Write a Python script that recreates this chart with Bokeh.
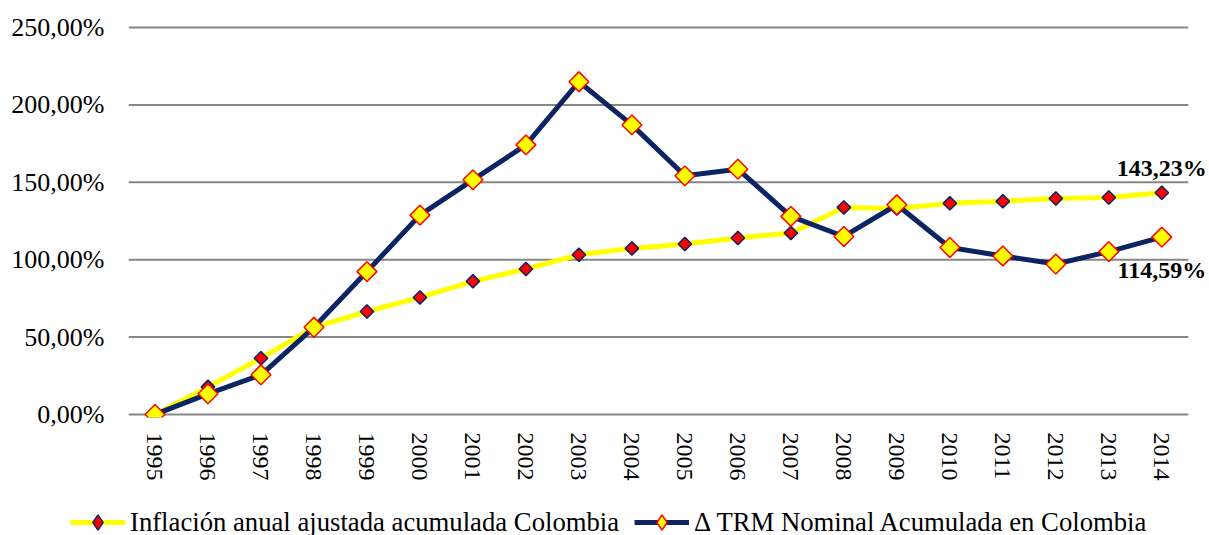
import math
from bokeh.plotting import figure
from bokeh.layouts import column
from bokeh.models import (Range1d, CustomJSTickFormatter, Legend, LegendItem,
                          Label, FixedTicker, ColumnDataSource)
from bokeh.embed import file_html
from bokeh.resources import INLINE

years = [str(y) for y in range(1995, 2015)]
inflacion = [0.0, 17.8, 36.3, 56.3, 66.5, 75.6, 86.0, 94.0, 103.2, 107.3,
             110.1, 114.0, 117.2, 133.8, 133.0, 136.4, 137.7, 139.6, 140.2, 143.23]
trm = [0.0, 13.3, 25.6, 56.3, 92.3, 128.8, 151.6, 174.2, 215.0, 187.1,
       154.2, 158.5, 128.0, 115.0, 135.5, 107.9, 102.4, 97.2, 105.2, 114.59]
y_ticks = [0, 50, 100, 150, 200, 250]
series_names = ["Inflación anual ajustada acumulada Colombia",
                "Δ TRM Nominal Acumulada en Colombia"]
end_labels = ["143,23%", "114,59%"]

FONT = "Liberation Serif"
NAVY = "#0B2562"
YELLOW = "#FFFF00"
RED = "#FF0000"
GRID = "#868686"

pos = list(range(len(years)))          # category slots on the x axis
src = ColumnDataSource(data=dict(x=pos, year=years, inf=inflacion, trm=trm))

p = figure(width=1209, height=504,
           x_range=Range1d(-0.5, len(years) - 0.5 + 0.4),
           y_range=Range1d(-2, 252),
           output_backend="svg", toolbar_location=None,
           min_border_left=128, min_border_right=0, min_border_top=24,
           min_border_bottom=87)
p.outline_line_color = None
p.background_fill_color = "white"
p.frame_align = False

# axes
p.yaxis.ticker = FixedTicker(ticks=y_ticks)
p.yaxis.formatter = CustomJSTickFormatter(
    code="return tick.toFixed(2).replace('.', ',') + '%';")
p.yaxis.axis_line_color = None
p.yaxis.major_tick_line_color = None
p.yaxis.minor_tick_line_color = None
p.yaxis.major_label_text_font = FONT
p.yaxis.major_label_text_font_size = "26px"
p.yaxis.major_label_text_color = "black"
p.yaxis.major_label_standoff = 18

p.xaxis.ticker = FixedTicker(ticks=pos)
p.xaxis.major_label_overrides = {i: y for i, y in zip(pos, years)}
p.xaxis.axis_line_color = None
p.xaxis.major_tick_line_color = None
p.xaxis.minor_tick_line_color = None
p.xaxis.major_label_orientation = "vertical"
p.xaxis.major_label_text_font = FONT
p.xaxis.major_label_text_font_size = "24px"
p.xaxis.major_label_text_color = "black"
p.xaxis.major_label_standoff = 9

p.xgrid.grid_line_color = None
p.ygrid.grid_line_color = None
# horizontal gridlines spanning only the category area
p.segment(x0=-0.5, x1=len(years) - 0.5, y0=y_ticks, y1=y_ticks,
          line_color=GRID, line_width=2)

# series 1: inflation
l1 = p.line("x", "inf", source=src, line_color=YELLOW, line_width=5)
s1 = p.scatter("x", "inf", source=src, marker="square", angle=math.pi / 4,
               size=9.5, fill_color=RED, line_color=NAVY, line_width=1.5)
# series 2: TRM
l2 = p.line("x", "trm", source=src, line_color=NAVY, line_width=5)
s2 = p.scatter("x", "trm", source=src, marker="square", angle=math.pi / 4,
               size=14, fill_color=YELLOW, line_color=RED, line_width=1.5)

# end labels
p.add_layout(Label(x=pos[-1], y=inflacion[-1], text=end_labels[0],
                   text_align="center", text_baseline="bottom", y_offset=12,
                   text_font=FONT, text_font_size="24px",
                   text_font_style="bold", text_color="black"))
p.add_layout(Label(x=pos[-1], y=trm[-1], text=end_labels[1],
                   text_align="center", text_baseline="top", y_offset=-20,
                   text_font=FONT, text_font_size="24px",
                   text_font_style="bold", text_color="black"))

# legend strip below the chart (same series, drawn outside its visible range)
lf = figure(width=1209, height=31, x_range=Range1d(0, 1),
            y_range=Range1d(1000, 1001),
            output_backend="svg", toolbar_location=None,
            min_border_left=0, min_border_right=0,
            min_border_top=0, min_border_bottom=0)
lf.frame_align = False
lf.axis.visible = False
lf.grid.visible = False
lf.outline_line_color = None
g1 = lf.line("x", "inf", source=src, line_color=YELLOW, line_width=5)
h1 = lf.scatter("x", "inf", source=src, marker="diamond", size=10,
                fill_color=RED, line_color=NAVY, line_width=1.5)
g2 = lf.line("x", "trm", source=src, line_color=NAVY, line_width=5)
h2 = lf.scatter("x", "trm", source=src, marker="diamond", size=14,
                fill_color=YELLOW, line_color=RED, line_width=1.5)
legend = Legend(items=[LegendItem(label=series_names[0], renderers=[g1, h1]),
                       LegendItem(label=series_names[1], renderers=[g2, h2])],
                orientation="horizontal", location=(70, -6),
                label_text_font=FONT, label_text_font_size="26.7px",
                label_text_color="black",
                glyph_width=55, glyph_height=38, label_standoff=5,
                spacing=15, padding=0, margin=0,
                border_line_color=None, background_fill_alpha=0)
lf.add_layout(legend, "center")

layout = column(p, lf, spacing=0)
open("out.html", "w").write(file_html(layout, INLINE))
